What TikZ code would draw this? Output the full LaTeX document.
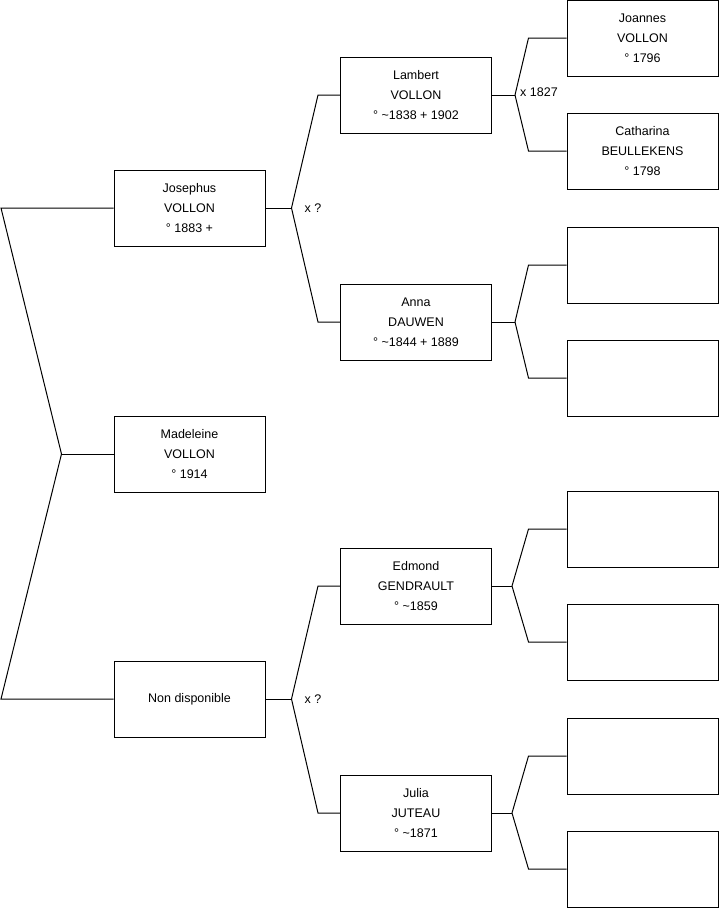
\documentclass[tikz,border=0pt]{standalone}
\usepackage{fontspec}
\setmainfont{Liberation Sans}
\usetikzlibrary{positioning,calc}

\tikzset{
    person/.style={draw=black,line width=1pt,minimum width=151pt,minimum height=76pt,
        align=center,inner sep=0pt,font=\fontsize{12.5}{20}\selectfont},
    link/.style={black,line width=1pt},
    marr/.style={anchor=west,inner sep=0pt,font=\fontsize{12.5}{15}\selectfont}
}

\begin{document}
\begin{tikzpicture}[x=1pt,y=-1pt]
    \useasboundingbox (0,0) rectangle (719,908);

    % generation 0 and 1
    \node[person] (mad) at (189.5,454) {Madeleine\\VOLLON\\\textdegree{} 1914};
    \node[person] (jos) at (189.5,208) {Josephus\\VOLLON\\\textdegree{} 1883 +};
    \node[person] (non) at (189.5,699) {Non disponible};

    % generation 2
    \node[person] (lam) at (416,95)  {Lambert\\VOLLON\\\textdegree{} \textasciitilde1838 + 1902};
    \node[person] (ann) at (416,322) {Anna\\DAUWEN\\\textdegree{} \textasciitilde1844 + 1889};
    \node[person] (edm) at (416,586) {Edmond\\GENDRAULT\\\textdegree{} \textasciitilde1859};
    \node[person] (jul) at (416,813) {Julia\\JUTEAU\\\textdegree{} \textasciitilde1871};

    % generation 3
    \node[person] (joa) at (642.5,38)  {Joannes\\VOLLON\\\textdegree{} 1796};
    \node[person] (cat) at (642.5,151) {Catharina\\BEULLEKENS\\\textdegree{} 1798};
    \node[person] (ann1) at (642.5,265) {};
    \node[person] (ann2) at (642.5,378) {};
    \node[person] (edm1) at (642.5,529) {};
    \node[person] (edm2) at (642.5,642) {};
    \node[person] (jul1) at (642.5,756) {};
    \node[person] (jul2) at (642.5,869) {};

    % mad -> parents
    \coordinate (b0) at (1,0);
    \draw[link] (mad.west) -- ++(-52,0) coordinate (jmad);
    \draw[link] (jmad) -- (jos.west -| b0) -- (jos.west);
    \draw[link] (jmad) -- (non.west -| b0) -- (non.west);

    % jos -> parents
    \draw[link] (jos.east) -- ++(26,0) coordinate (jjos);
    \draw[link] (jjos) -- ([xshift=-22pt]lam.west) -- (lam.west);
    \draw[link] (jjos) -- ([xshift=-22pt]ann.west) -- (ann.west);
    \node[marr] (xjos) at ([xshift=13pt]jjos) {x ?};

    % non -> parents
    \draw[link] (non.east) -- ++(26,0) coordinate (jnon);
    \draw[link] (jnon) -- ([xshift=-22pt]edm.west) -- (edm.west);
    \draw[link] (jnon) -- ([xshift=-22pt]jul.west) -- (jul.west);
    \node[marr] (xnon) at ([xshift=13pt]jnon) {x ?};

    % lam -> parents
    \draw[link] (lam.east) -- ++(23,0) coordinate (jlam);
    \draw[link] (jlam) -- ([xshift=-38pt]joa.west) -- (joa.west);
    \draw[link] (jlam) -- ([xshift=-38pt]cat.west) -- (cat.west);
    \node[marr] (xlam) at ([xshift=5pt,yshift=3pt]jlam) {x 1827};

    % ann -> parents
    \draw[link] (ann.east) -- ++(23,0) coordinate (jann);
    \draw[link] (jann) -- ([xshift=-38pt]ann1.west) -- (ann1.west);
    \draw[link] (jann) -- ([xshift=-38pt]ann2.west) -- (ann2.west);

    % edm -> parents
    \draw[link] (edm.east) -- ++(20,0) coordinate (jedm);
    \draw[link] (jedm) -- ([xshift=-38pt]edm1.west) -- (edm1.west);
    \draw[link] (jedm) -- ([xshift=-38pt]edm2.west) -- (edm2.west);

    % jul -> parents
    \draw[link] (jul.east) -- ++(20,0) coordinate (jjul);
    \draw[link] (jjul) -- ([xshift=-38pt]jul1.west) -- (jul1.west);
    \draw[link] (jjul) -- ([xshift=-38pt]jul2.west) -- (jul2.west);
\end{tikzpicture}
\end{document}
